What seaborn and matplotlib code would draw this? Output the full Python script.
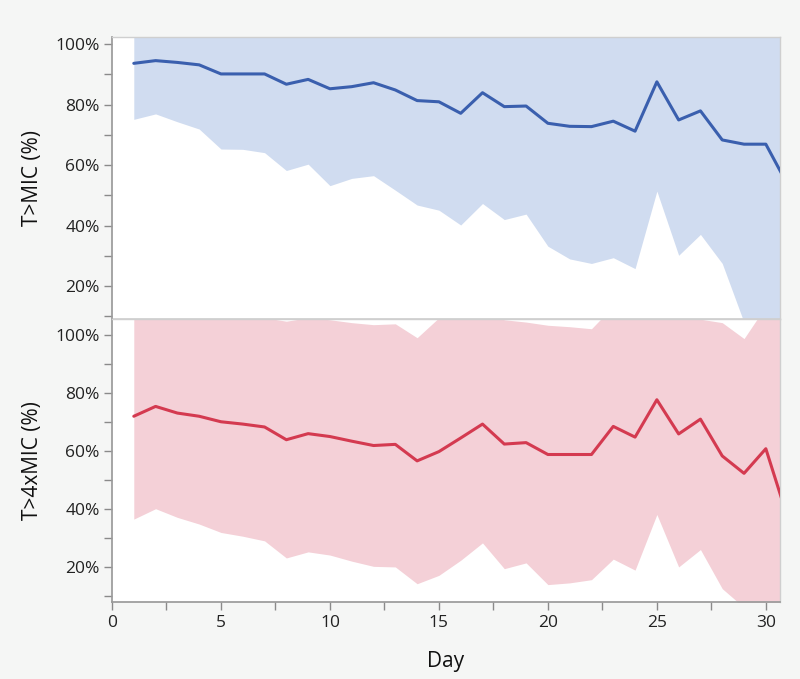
import numpy as np
import pandas as pd
import matplotlib
matplotlib.use("Agg")
import matplotlib.pyplot as plt
from matplotlib.ticker import MultipleLocator, FuncFormatter
import seaborn as sns

days = list(range(1, 32))

tmic_mean = [93.6, 94.5, 93.9, 93.1, 90.1, 90.1, 90.1, 86.7, 88.3, 85.2, 85.9, 87.2, 84.8, 81.3, 80.9,
             77.1, 83.9, 79.3, 79.5, 73.8, 72.8, 72.7, 74.5, 71.2, 87.5, 74.9, 77.9, 68.3, 66.9, 66.9, 53.5]
tmic_lower = [75.1, 76.9, 74.3, 71.9, 65.3, 65.2, 64.1, 58.2, 60.3, 53.2, 55.6, 56.5, 51.7, 46.8, 45.1,
              40.2, 47.3, 42.0, 43.8, 33.2, 29.0, 27.5, 29.4, 25.8, 51.4, 30.2, 37.1, 27.5, 8.0, 4.0, 2.0]
tmic_upper = [112, 112, 112, 113, 114, 114, 115, 115, 115, 116, 116, 117, 117, 118, 118,
              118, 119, 119, 119, 120, 120, 121, 121, 121, 122, 122, 123, 123, 124, 124, 125]

t4mic_mean = [72.0, 75.4, 73.1, 72.0, 70.1, 69.3, 68.3, 63.9, 66.0, 65.0, 63.4, 61.9, 62.3, 56.6, 59.8,
              64.5, 69.3, 62.4, 62.9, 58.8, 58.8, 58.8, 68.5, 64.8, 77.7, 65.9, 71.0, 58.3, 52.3, 60.8, 37.0]
t4mic_lower = [36.5, 40.1, 37.1, 34.8, 31.9, 30.6, 29.0, 23.1, 25.2, 24.1, 22.0, 20.2, 20.0, 14.2, 17.1,
               22.3, 28.3, 19.4, 21.4, 13.9, 14.5, 15.6, 22.7, 18.9, 38.1, 20.0, 26.0, 12.5, 6.0, 3.0, 1.0]
t4mic_upper = [108, 108, 107, 107, 107, 106.5, 106, 104.8, 106, 105.3, 104.3, 103.6, 103.9, 99.1, 106,
               108, 108, 105.3, 104.5, 103.4, 102.9, 102.2, 110, 110, 110, 110, 105.5, 104.3, 98.8, 110, 110]

df_top = pd.DataFrame({"Day": days, "mean": tmic_mean, "lo": tmic_lower, "hi": tmic_upper})
df_bot = pd.DataFrame({"Day": days, "mean": t4mic_mean, "lo": t4mic_lower, "hi": t4mic_upper})

sns.set_theme(style="white")
plt.rcParams["font.family"] = ["Open Sans", "DejaVu Sans"]

fig = plt.figure(figsize=(8.0, 6.79), dpi=100, facecolor="#f5f6f5")
left, right = 0.140, 0.975
ax1 = fig.add_axes([left, 0.5295, right - left, 0.9455 - 0.5295])
ax2 = fig.add_axes([left, 0.1134, right - left, 0.5295 - 0.1134], sharex=ax1)

blue_line = "#3a5fae"
blue_fill = "#d0dcf0"
red_line = "#d43a50"
red_fill = "#f4d0d7"

ax1.fill_between(df_top["Day"], df_top["lo"], df_top["hi"], color=blue_fill, lw=0, zorder=1)
sns.lineplot(data=df_top, x="Day", y="mean", ax=ax1, color=blue_line, lw=2.2, zorder=3)
ax2.fill_between(df_bot["Day"], df_bot["lo"], df_bot["hi"], color=red_fill, lw=0, zorder=1)
sns.lineplot(data=df_bot, x="Day", y="mean", ax=ax2, color=red_line, lw=2.2, zorder=3)

ax1.set_ylim(9.0, 102.3)
ax2.set_ylim(7.9, 105.4)
ax1.set_xlim(0, 30.65)

pct = FuncFormatter(lambda v, p: f"{int(round(v))}%")
for ax in (ax1, ax2):
    ax.set_facecolor("white")
    ax.yaxis.set_major_locator(MultipleLocator(20))
    ax.yaxis.set_minor_locator(MultipleLocator(10))
    ax.yaxis.set_major_formatter(pct)
    ax.tick_params(axis="y", which="both", direction="out", length=6, width=1,
                   color="#8a8a8a", labelsize=12.5, labelcolor="#222222", pad=3, left=True)
    for s in ("top", "right"):
        ax.spines[s].set_color("#cfcfcf")
        ax.spines[s].set_linewidth(1)
    ax.spines["left"].set_color("#9a9a9a")
    ax.spines["bottom"].set_color("#d0d0d0")
    ax.set_xlabel("")

ax1.tick_params(axis="x", which="both", bottom=False, labelbottom=False)
ax2.spines["bottom"].set_color("#9a9a9a")
ax2.xaxis.set_major_locator(MultipleLocator(5))
ax2.xaxis.set_minor_locator(MultipleLocator(2.5))
ax2.tick_params(axis="x", which="both", direction="out", length=6, width=1,
                color="#8a8a8a", labelsize=12.5, labelcolor="#222222", bottom=True, pad=3)

ax1.set_ylabel("T>MIC (%)", fontsize=15, color="#111111", labelpad=9)
ax2.set_ylabel("T>4xMIC (%)", fontsize=15, color="#111111", labelpad=9)
ax2.set_xlabel("Day", fontsize=15, color="#111111", labelpad=15)

fig.savefig("out.png", dpi=100, facecolor=fig.get_facecolor())
